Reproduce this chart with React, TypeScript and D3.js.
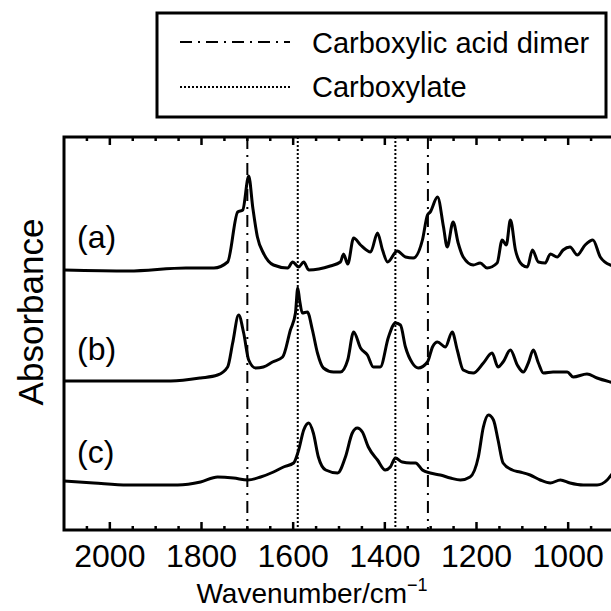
import React from "react";
import * as d3 from "d3";

const wnA = [2100,1959,1834,1773,1743,1721,1710,1697,1688,1678,1665,1643,1612,1601,1588,1577,1566,1519,1497,1490,1481,1468,1453,1431,1416,1405,1394,1373,1355,1338,1318,1307,1301,1285,1272,1264,1251,1240,1229,1207,1192,1177,1155,1144,1135,1126,1115,1100,1089,1078,1065,1050,1039,1024,1011,996,980,963,946,930,908,900];
const absA = [2.60,2.59,2.62,2.62,2.68,3.18,3.20,3.54,3.22,2.93,2.77,2.65,2.62,2.68,2.63,2.68,2.60,2.64,2.68,2.76,2.66,2.92,2.85,2.78,2.97,2.80,2.68,2.79,2.73,2.72,2.90,3.15,3.18,3.33,3.03,2.83,3.08,2.87,2.73,2.65,2.67,2.62,2.67,2.90,2.85,3.10,2.80,2.65,2.63,2.80,2.68,2.67,2.76,2.73,2.80,2.83,2.75,2.85,2.90,2.73,2.65,2.64];

const wnB = [2100,1867,1802,1765,1743,1732,1719,1708,1697,1682,1665,1645,1623,1606,1595,1590,1586,1580,1569,1558,1547,1534,1512,1497,1481,1468,1453,1438,1425,1410,1392,1377,1366,1355,1340,1327,1307,1296,1285,1268,1253,1242,1229,1207,1185,1166,1153,1142,1126,1111,1098,1087,1076,1065,1054,1033,1002,989,959,937,908,900];
const absB = [1.49,1.49,1.52,1.55,1.63,1.87,2.15,1.97,1.70,1.62,1.63,1.68,1.73,2.00,2.17,2.42,2.30,2.17,2.18,2.00,1.77,1.62,1.58,1.58,1.70,1.98,1.82,1.75,1.63,1.63,1.93,2.07,2.05,1.83,1.67,1.62,1.68,1.83,1.88,1.83,1.98,1.80,1.60,1.57,1.67,1.77,1.63,1.68,1.80,1.65,1.58,1.67,1.80,1.67,1.57,1.58,1.58,1.53,1.56,1.52,1.48,1.47];

const wnC = [2100,2035,1961,1852,1802,1765,1730,1699,1671,1643,1621,1599,1588,1577,1566,1556,1545,1529,1503,1486,1471,1460,1449,1436,1416,1399,1388,1377,1362,1344,1333,1318,1301,1279,1257,1235,1214,1196,1185,1174,1163,1153,1142,1122,1105,1083,1061,1039,1017,996,967,937,915,906,900];
const absC = [0.49,0.47,0.45,0.45,0.48,0.53,0.52,0.50,0.53,0.58,0.63,0.67,0.80,1.00,1.07,0.97,0.73,0.60,0.57,0.73,0.97,1.02,0.98,0.83,0.70,0.60,0.63,0.72,0.68,0.67,0.67,0.60,0.57,0.55,0.52,0.50,0.53,0.73,1.03,1.15,1.10,0.90,0.67,0.60,0.58,0.55,0.50,0.47,0.50,0.47,0.45,0.45,0.50,0.55,0.58];

const seriesLabels = ["(a)", "(b)", "(c)"];
const labelAbs = [2.82, 1.70, 0.67];
const dimerLines = [1700, 1306];
const carboxylateLines = [1590, 1377];
const majorTicks = [2000, 1800, 1600, 1400, 1200, 1000];
const minorTicks = d3.range(2050, 899, -50);
const legendItems = ["Carboxylic acid dimer", "Carboxylate"];

const W = 611;
const H = 611;
const left = 64, top = 137, bottom = 530;
const FONT = "'Liberation Sans', Arial, Helvetica, sans-serif";

export default function App() {
  const x = d3.scaleLinear().domain([2100, 900]).range([left, 614]);
  const y = d3.scaleLinear().domain([0, 3.93]).range([bottom, top]);
  const line = d3.line<[number, number]>().x(d => x(d[0])).y(d => y(d[1])).curve(d3.curveMonotoneX);
  const series = [
    d3.zip(wnA, absA) as [number, number][],
    d3.zip(wnB, absB) as [number, number][],
    d3.zip(wnC, absC) as [number, number][],
  ];
  const dashDot = "12,6,2,6";
  const dotted = "2,2";
  return (
    <svg width={W} height={H} style={{ position: "absolute", left: 0, top: 0, background: "#fff" }} fontFamily={FONT}>
      <defs>
        <clipPath id="plotclip">
          <rect x={left} y={top} width={614 - left} height={bottom - top} />
        </clipPath>
      </defs>
      {/* legend */}
      <rect x={157} y={13} width={449} height={104} fill="#fff" stroke="#000" strokeWidth={3} />
      <line x1={180} x2={290} y1={42} y2={42} stroke="#000" strokeWidth={2} strokeDasharray={dashDot} />
      <line x1={180} x2={290} y1={87} y2={87} stroke="#000" strokeWidth={2} strokeDasharray={dotted} />
      <text x={312} y={53} fontSize={29}>{legendItems[0]}</text>
      <text x={312} y={97} fontSize={29}>{legendItems[1]}</text>

      {/* reference lines */}
      {dimerLines.map(w => (
        <line key={"d" + w} x1={x(w)} x2={x(w)} y1={top} y2={bottom} stroke="#000" strokeWidth={2} strokeDasharray={dashDot} />
      ))}
      {carboxylateLines.map(w => (
        <line key={"c" + w} x1={x(w)} x2={x(w)} y1={top} y2={bottom} stroke="#000" strokeWidth={2} strokeDasharray={dotted} />
      ))}

      {/* spectra */}
      <g clipPath="url(#plotclip)">
        {series.map((s, i) => (
          <path key={i} d={line(s) || ""} fill="none" stroke="#000" strokeWidth={3} strokeLinejoin="round" />
        ))}
      </g>
      {seriesLabels.map((l, i) => (
        <text key={l} x={77} y={y(labelAbs[i])} fontSize={32}>{l}</text>
      ))}

      {/* ticks */}
      {majorTicks.map(t => (
        <g key={"M" + t}>
          <line x1={x(t)} x2={x(t)} y1={bottom} y2={bottom - 8} stroke="#000" strokeWidth={2.5} />
          <line x1={x(t)} x2={x(t)} y1={top} y2={top + 8} stroke="#000" strokeWidth={2.5} />
          <text x={x(t)} y={567} fontSize={32} textAnchor="middle">{t}</text>
        </g>
      ))}
      {minorTicks.filter(t => !majorTicks.includes(t)).map(t => (
        <g key={"m" + t}>
          <line x1={x(t)} x2={x(t)} y1={bottom} y2={bottom - 4} stroke="#000" strokeWidth={2.5} />
          <line x1={x(t)} x2={x(t)} y1={top} y2={top + 4} stroke="#000" strokeWidth={2.5} />
        </g>
      ))}

      {/* frame */}
      <rect x={left} y={top} width={614 - left} height={bottom - top} fill="none" stroke="#000" strokeWidth={3} />

      {/* axis titles */}
      <text x={312} y={603} fontSize={28} textAnchor="middle">
        Wavenumber/cm<tspan dy={-12} fontSize={18}>−1</tspan>
      </text>
      <text transform={`translate(43, ${312}) rotate(-90)`} fontSize={35} textAnchor="middle">Absorbance</text>
    </svg>
  );
}
